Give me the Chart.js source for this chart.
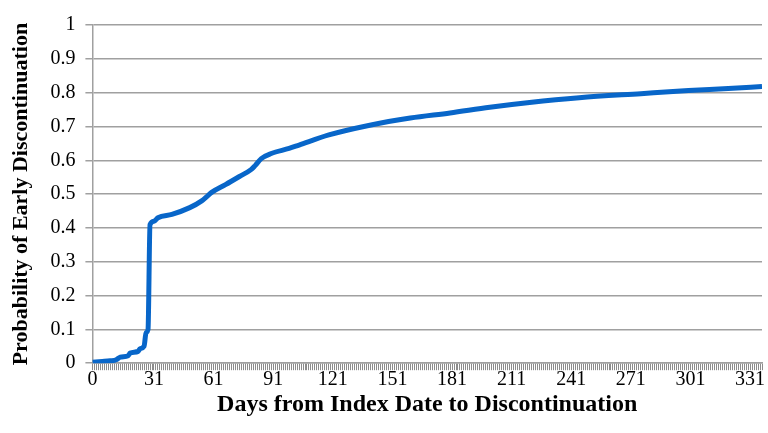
<!DOCTYPE html>
<html>
<head>
<meta charset="utf-8">
<script src="https://cdn.jsdelivr.net/npm/chart.js@4/dist/chart.umd.min.js"></script>
<style>
  html, body { margin: 0; padding: 0; background: #fff; }
  #wrap { width: 768px; height: 433px; }
</style>
</head>
<body>
<div id="wrap"><canvas id="chart"></canvas></div>
<script>
// Days since index date and the cumulative probability
const days = [0, 5, 9, 12, 14, 18, 19, 23, 24, 26, 27, 28, 29, 31, 33, 40, 49, 55, 58, 60,
              67, 74, 80, 82, 85, 90, 99, 104, 119, 139, 160, 180, 200, 220, 245, 276, 300, 320, 337];
const probability = [0.003, 0.005, 0.007, 0.010, 0.018, 0.022, 0.030, 0.035, 0.043, 0.050, 0.090, 0.100, 0.410, 0.420, 0.430, 0.440, 0.460, 0.480, 0.495, 0.505,
                     0.528, 0.552, 0.573, 0.585, 0.605, 0.620, 0.635, 0.645, 0.675, 0.703, 0.725, 0.740, 0.757, 0.771, 0.785, 0.797, 0.806, 0.812, 0.818];

// Axis ticks
const xLabelDays = [0, 31, 61, 91, 121, 151, 181, 211, 241, 271, 301, 331];
const xMaxDay = 337;
const yTicks = [0, 0.1, 0.2, 0.3, 0.4, 0.5, 0.6, 0.7, 0.8, 0.9, 1];

const serif = "'Liberation Serif', 'Times New Roman', serif";

// one tick mark per day along the bottom axis
const allDays = [];
for (let d = 0; d <= xMaxDay; d++) allDays.push(d);

const points = days.map((d, i) => ({ x: d, y: probability[i] }));

new Chart(document.getElementById('chart'), {
    type: 'line',
    data: {
        datasets: [{
            label: 'Probability of Early Discontinuation',
            data: points,
            borderColor: '#0866c9',
            borderWidth: 5,
            pointRadius: 0,
            cubicInterpolationMode: 'monotone',
            fill: false
        }]
    },
    options: {
        responsive: true,
        maintainAspectRatio: false,
        animation: false,
        layout: { padding: { left: 8, right: 6, top: 25, bottom: 14 } },
        plugins: {
            legend: { display: false },
            tooltip: { enabled: false }
        },
        scales: {
            x: {
                type: 'linear',
                min: 0,
                max: xMaxDay,
                afterBuildTicks: scale => { scale.ticks = allDays.map(v => ({ value: v })); },
                grid: {
                    drawOnChartArea: false,
                    color: '#8c8c8c',
                    tickLength: 7,
                    lineWidth: 1
                },
                border: { display: true, color: '#a0a0a0', width: 1.5 },
                ticks: {
                    autoSkip: false,
                    maxRotation: 0,
                    padding: -2,
                    color: '#000',
                    font: { family: serif, size: 20 },
                    callback: v => xLabelDays.includes(v) ? String(v) : ''
                },
                title: {
                    display: true,
                    text: 'Days from Index Date to Discontinuation',
                    color: '#000',
                    font: { family: serif, size: 24, weight: 'bold' },
                    padding: { top: 0, bottom: 0 }
                }
            },
            y: {
                min: 0,
                max: 1,
                afterBuildTicks: scale => { scale.ticks = yTicks.map(v => ({ value: v })); },
                grid: {
                    color: '#a0a0a0',
                    lineWidth: 1.5,
                    tickLength: 7
                },
                border: { display: true, color: '#a0a0a0', width: 1.5 },
                ticks: {
                    padding: 10,
                    color: '#000',
                    font: { family: serif, size: 20 },
                    callback: v => String(Math.round(v * 10) / 10)
                },
                title: {
                    display: true,
                    text: 'Probability of Early Discontinuation',
                    color: '#000',
                    font: { family: serif, size: 22, weight: 'bold' },
                    padding: { top: 0, bottom: 6 }
                }
            }
        }
    }
});
</script>
</body>
</html>
